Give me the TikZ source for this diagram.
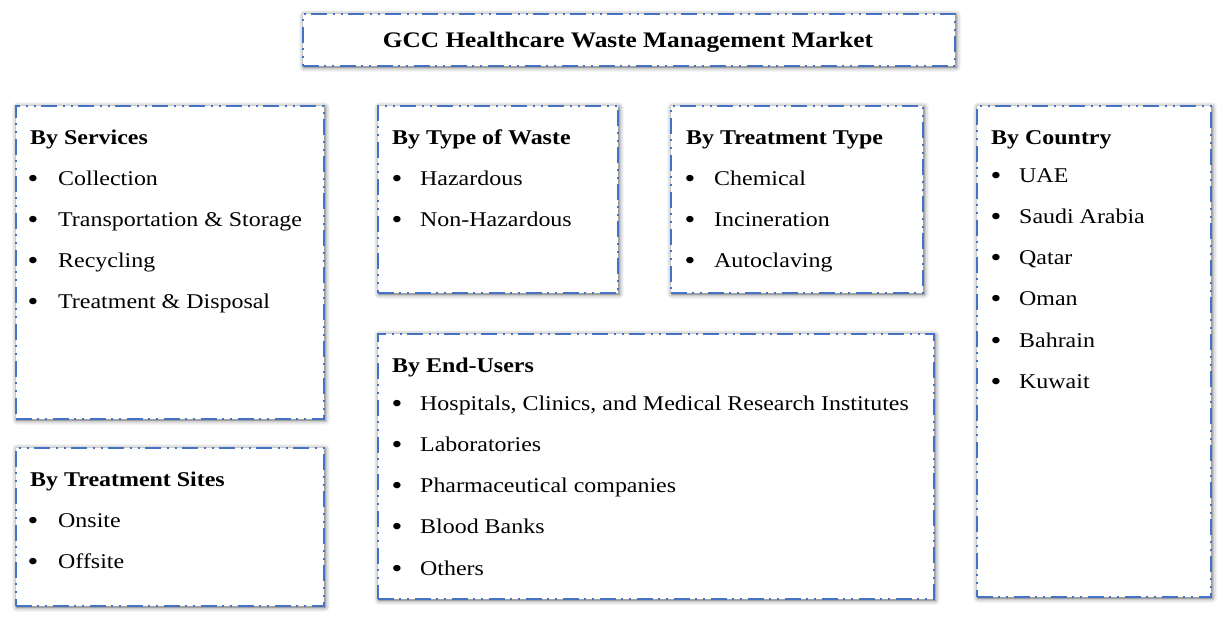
\documentclass[tikz,border=0pt]{standalone}
\usepackage{fontspec}
\setmainfont[FakeStretch=1.14]{Liberation Serif}
\usetikzlibrary{shadows.blur}
\definecolor{panelblue}{HTML}{4472C4}
\tikzset{panel/.style={draw=panelblue,line width=2pt,fill=white,anchor=north west,inner sep=0pt,
    dash pattern=on 16pt off 5pt on 2pt off 6pt on 2pt off 6pt,
    blur shadow={shadow xshift=1pt,shadow yshift=-1pt,shadow blur radius=5pt,shadow opacity=65}},
  head/.style={anchor=base west,inner sep=0pt,font=\bfseries\fontsize{21}{25}\selectfont},
  item/.style={anchor=base west,inner sep=0pt,font=\fontsize{21}{25}\selectfont},
  dot/.style={anchor=base,inner sep=0pt,font=\fontsize{27}{30}\selectfont},
}

\begin{document}
\begin{tikzpicture}[x=1pt,y=-1pt]
	\useasboundingbox (0,0) rectangle (1224,619);
	
	% title
	\node[panel,minimum width=652pt,minimum height=52pt] (title) at (302,13) {};
	\node[head,anchor=base,font=\bfseries\fontsize{22.2}{26}\selectfont] (titleText) at (628,47) {GCC Healthcare Waste Management Market};
	
	% by services
	\node[panel,minimum width=308pt,minimum height=313pt] (services) at (15,105) {};
	\node[head] (servicesHead) at (30,144) {By Services};
	\foreach \txt [count=\i] in {Collection,Transportation \& Storage,Recycling,Treatment \& Disposal}{
		\node[dot] (servicesDot\i) at (33,145.7+41.3*\i) {\textbullet};
		\node[item] (servicesItem\i) at (58,143.7+41.3*\i) {\txt};
	}
	
	% by type of waste
	\node[panel,minimum width=240pt,minimum height=187pt] (waste) at (377,105) {};
	\node[head] (wasteHead) at (392,144) {By Type of Waste};
	\foreach \txt [count=\i] in {Hazardous,Non-Hazardous}{
		\node[dot] (wasteDot\i) at (397,145.7+41.3*\i) {\textbullet};
		\node[item] (wasteItem\i) at (420,143.7+41.3*\i) {\txt};
	}
	
	% by treatment type
	\node[panel,minimum width=252pt,minimum height=187pt] (treatment) at (670,105) {};
	\node[head] (treatmentHead) at (686,144) {By Treatment Type};
	\foreach \txt [count=\i] in {Chemical,Incineration,Autoclaving}{
		\node[dot] (treatmentDot\i) at (690,145.7+41.3*\i) {\textbullet};
		\node[item] (treatmentItem\i) at (714,143.7+41.3*\i) {\txt};
	}
	
	% by country
	\node[panel,minimum width=234pt,minimum height=491pt] (country) at (976,105) {};
	\node[head] (countryHead) at (991,144) {By Country};
	\foreach \txt [count=\i] in {UAE,Saudi Arabia,Qatar,Oman,Bahrain,Kuwait}{
		\node[dot] (countryDot\i) at (996,142.7+41.3*\i) {\textbullet};
		\node[item] (countryItem\i) at (1019,140.7+41.3*\i) {\txt};
	}
	
	% by treatment sites
	\node[panel,minimum width=308pt,minimum height=158pt] (sites) at (15,447) {};
	\node[head] (sitesHead) at (30,486) {By Treatment Sites};
	\foreach \txt [count=\i] in {Onsite,Offsite}{
		\node[dot] (sitesDot\i) at (33,487.7+41.3*\i) {\textbullet};
		\node[item] (sitesItem\i) at (58,485.7+41.3*\i) {\txt};
	}
	
	% by end-users
	\node[panel,minimum width=556pt,minimum height=265pt] (users) at (377,333) {};
	\node[head] (usersHead) at (392,372) {By End-Users};
	\foreach \txt [count=\i] in {{Hospitals, Clinics, and Medical Research Institutes},Laboratories,Pharmaceutical companies,Blood Banks,Others}{
		\node[dot] (usersDot\i) at (397,370.7+41.3*\i) {\textbullet};
		\node[item] (usersItem\i) at (420,368.7+41.3*\i) {\txt};
	}
	
\end{tikzpicture}
\end{document}
